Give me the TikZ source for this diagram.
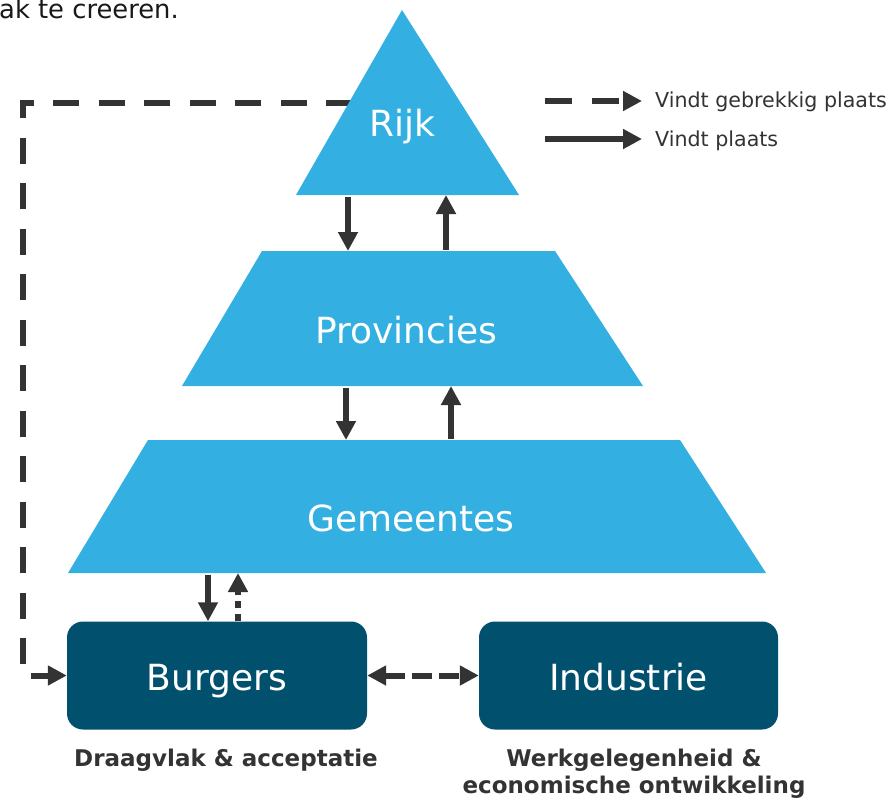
\documentclass[tikz,border=0pt]{standalone}
\usepackage{fontspec}
\setmainfont{DejaVu Sans}
\usetikzlibrary{arrows.meta}
\definecolor{lblue}{RGB}{51,176,225}
\definecolor{dblue}{RGB}{0,80,110}
\definecolor{ink}{RGB}{51,51,51}
\begin{document}
\begin{tikzpicture}[x=1pt,y=-1pt,
  conn/.style={draw=ink, line width=6pt, shorten <=1.5pt, -{Triangle[length=19pt,width=19pt]}},
  bigtext/.style={text=white, inner sep=0pt, anchor=base, font=\fontsize{36}{40}\selectfont},
  boxnode/.style={fill=dblue, rounded corners=16pt, minimum width=300pt, minimum height=108pt, inner sep=0pt},
  legtext/.style={text=ink, inner sep=0pt, anchor=base west, font=\fontsize{20.6}{24}\selectfont},
  captext/.style={text=ink, inner sep=0pt, anchor=base, font=\bfseries\fontsize{23}{27}\selectfont}]
\useasboundingbox (0,0) rectangle (894,798);
\fill[white] (0,0) rectangle (894,798);

% fragment of text at the top
\node[anchor=base west, inner sep=0pt, text=black!90, font=\fontsize{25.8}{30}\selectfont] (topT) at (-1,18) {ak te creeren.};

% bottom boxes
\node[boxnode] (burgers) at (217,675.5) {};
\node[boxnode, minimum width=299pt] (industrie) at (628.5,675.5) {};

% edge coordinates of the pyramid layers
\coordinate (rijkL) at (352,103);
\coordinate (loopC) at (22.5,103);
\coordinate (rijkBase) at (0,195);
\coordinate (provTop) at (0,251);
\coordinate (provBot) at (0,386);
\coordinate (gemTop) at (0,440);
\coordinate (gemBot) at (0,573);
\coordinate (colA) at (348,0);
\coordinate (colB) at (446,0);
\coordinate (colC) at (346,0);
\coordinate (colD) at (451,0);
\coordinate (colE) at (208,0);
\coordinate (colF) at (238,0);

% dashed feedback loop (drawn under the triangle)
\draw[conn, shorten <=0pt, dash pattern=on 26pt off 19.5pt] (rijkL) -- (loopC) |- (burgers.west);

% pyramid layers
\fill[lblue] (402,10) -- (519,195) -- (296,195) -- cycle;
\fill[lblue] (262,251) -- (555,251) -- (643,386) -- (182,386) -- cycle;
\fill[lblue] (148,440) -- (680,440) -- (766,573) -- (68,573) -- cycle;

% labels
\node[bigtext] (rijk) at (402,136) {Rijk};
\node[bigtext] (prov) at (406,343) {Provincies};
\node[bigtext] (gem) at (411,531) {Gemeentes};
\node[bigtext] (burgT) at (burgers.center |- 0,690) {Burgers};
\node[bigtext] (indT) at (industrie.center |- 0,690) {Industrie};

% vertical arrows
\draw[conn] (colA |- rijkBase) -- (colA |- provTop);
\draw[conn] (colB |- provTop) -- (colB |- rijkBase);
\draw[conn] (colC |- provBot) -- (colC |- gemTop);
\draw[conn] (colD |- gemTop) -- (colD |- provBot);
\draw[conn] (colE |- gemBot) -- (colE |- burgers.north);
\draw[conn, shorten <=0pt, dash pattern=on 7pt off 6pt] (colF |- burgers.north) -- (colF |- gemBot);

% Burgers <-> Industrie
\draw[draw=ink, line width=6pt, dash pattern=on 20pt off 7pt,
  {Triangle[length=19pt,width=19pt]}-{Triangle[length=19pt,width=19pt]}]
  (burgers.east) -- (industrie.west);

% legend
\node[legtext] (leg1) at (655,107) {Vindt gebrekkig plaats};
\node[legtext] (leg2) at (655,146) {Vindt plaats};
\coordinate (lg1s) at (545,101);
\coordinate (lg2s) at (545,139);
\draw[conn, shorten <=0pt, dash pattern=on 27pt off 20pt] (lg1s) -- (lg1s -| 642,0);
\draw[conn, shorten <=0pt] (lg2s) -- (lg2s -| 642,0);

% captions
\node[captext] (capB) at (226,766) {Draagvlak \& acceptatie};
\node[captext] (capI1) at (634,766) {Werkgelegenheid \&};
\node[captext] (capI2) at (634,793) {economische ontwikkeling};
\end{tikzpicture}
\end{document}
